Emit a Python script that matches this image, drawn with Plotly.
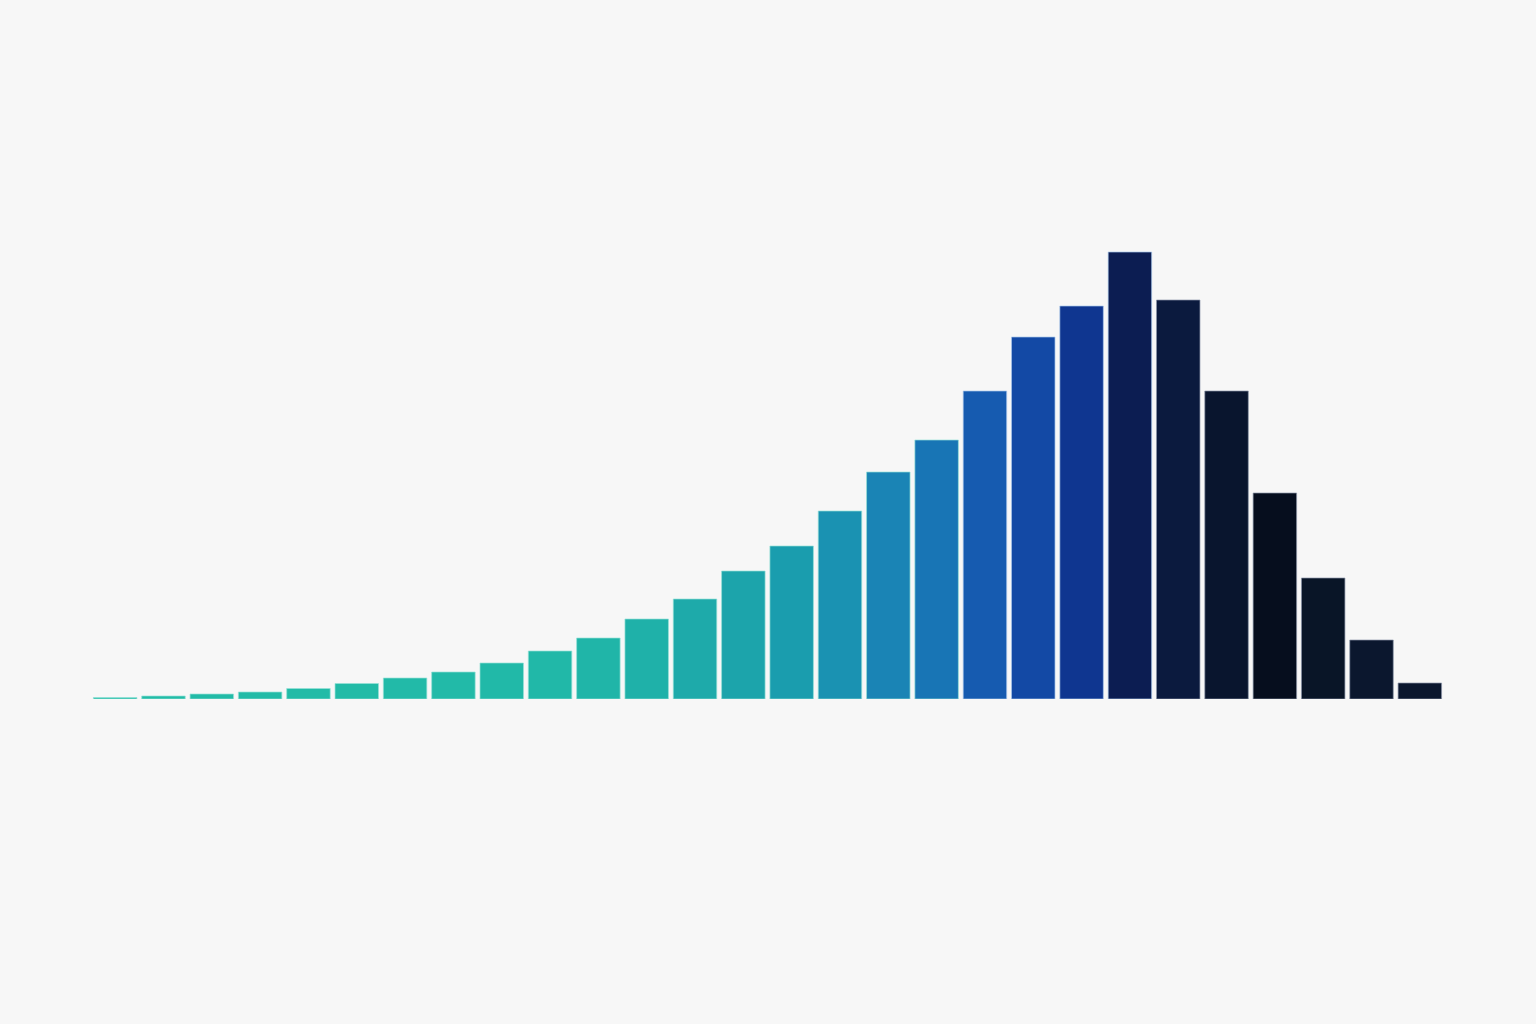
import plotly.graph_objects as go

# Data: 28 bins of a right-skewed distribution (heights)
bins = [f"B{i+1}" for i in range(28)]
values = [1.5, 3, 5, 7, 10.5, 15.5, 21, 27, 36, 48,
          61, 80, 100, 128, 153, 188, 227, 259, 308, 362,
          393, 447, 399, 308, 206, 121, 59, 16]
colors = ["#22bca7", "#22bca7", "#22bba7", "#22bba7", "#22bba7", "#22bba7", "#22baa8", "#22baa8", "#21b9a8", "#21b8a8",
          "#20b5a8", "#1fb1a9", "#1eaaaa", "#1ca4ab", "#1a9dae", "#1a92b2", "#1a84b5", "#1875b5", "#165bb0", "#1349a5",
          "#0f3690", "#0c1d52", "#0b1a3e", "#09152e", "#060e1e", "#091527", "#0b172e", "#0b172e"]
outline = ["rgba(150,225,215,0.7)"] * 18 + ["rgba(170,200,235,0.7)"] * 4 + ["rgba(140,150,170,0.7)"] * 6

fig = go.Figure(go.Bar(
    x=bins, y=values,
    marker=dict(color=colors, line=dict(color=outline, width=1)),
    hoverinfo="skip",
))

fig.update_layout(
    width=1536, height=1024,
    paper_bgcolor="#f7f7f7", plot_bgcolor="#f7f7f7",
    margin=dict(l=91, r=92, t=0, b=325),
    bargap=0.1,
    showlegend=False,
    xaxis=dict(visible=False, showgrid=False),
    yaxis=dict(visible=False, showgrid=False, range=[0, 699]),
)

fig.write_html(
    "out.html",
    config={"displayModeBar": False, "staticPlot": True},
    post_script="document.body.style.margin='0';document.body.style.background='#f7f7f7';document.body.style.overflow='hidden';",
)
